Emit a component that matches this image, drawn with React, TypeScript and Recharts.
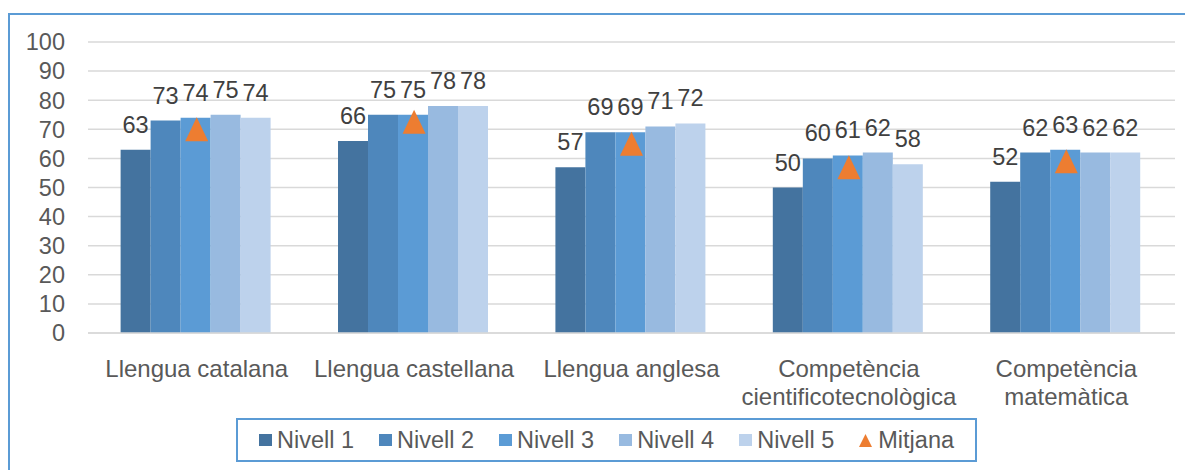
import React from "react";
import {
  ComposedChart,
  Bar,
  Scatter,
  XAxis,
  YAxis,
  CartesianGrid,
  Legend,
  LabelList,
} from "recharts";

const categories = [
  "Llengua catalana",
  "Llengua castellana",
  "Llengua anglesa",
  "Competència cientificotecnològica",
  "Competència matemàtica",
];
const tickLines = [
  ["Llengua catalana"],
  ["Llengua castellana"],
  ["Llengua anglesa"],
  ["Competència", "cientificotecnològica"],
  ["Competència", "matemàtica"],
];
const nivell1 = [63, 66, 57, 50, 52];
const nivell2 = [73, 75, 69, 60, 62];
const nivell3 = [74, 75, 69, 61, 63];
const nivell4 = [75, 78, 71, 62, 62];
const nivell5 = [74, 78, 72, 58, 62];
const mitjana = [70, 72.6, 65, 57, 59];
const yTicks = [0, 10, 20, 30, 40, 50, 60, 70, 80, 90, 100];

const series = [
  { key: "n1", name: "Nivell 1", color: "#44739F" },
  { key: "n2", name: "Nivell 2", color: "#4E87BC" },
  { key: "n3", name: "Nivell 3", color: "#5B9BD5" },
  { key: "n4", name: "Nivell 4", color: "#98BAE0" },
  { key: "n5", name: "Nivell 5", color: "#BDD2EC" },
];

const data = categories.map((c, i) => ({
  cat: c,
  n1: nivell1[i],
  n2: nivell2[i],
  n3: nivell3[i],
  n4: nivell4[i],
  n5: nivell5[i],
  mitjana: mitjana[i],
}));

const FONT = "'Liberation Sans', Arial, sans-serif";
const ORANGE = "#ED7D31";

function Triangle(props: any) {
  const { cx, cy } = props;
  if (cx == null || cy == null) return null;
  const w = 23;
  const h = 24;
  const pts = `${cx},${cy - h / 2} ${cx + w / 2},${cy + h / 2} ${cx - w / 2},${cy + h / 2}`;
  return <polygon points={pts} fill={ORANGE} />;
}

function CatTick(props: any) {
  const { x, y, index } = props;
  const lines = tickLines[index] || [];
  return (
    <text x={x} y={y} textAnchor="middle" fill="#595959" fontSize={24} fontFamily={FONT}>
      {lines.map((l, i) => (
        <tspan key={i} x={x} y={y + 36 + i * 28}>
          {l}
        </tspan>
      ))}
    </text>
  );
}

function LegendBox() {
  return (
    <div
      style={{
        boxSizing: "border-box",
        width: 741,
        height: 44,
        border: "2px solid #5B9BD5",
        display: "flex",
        alignItems: "center",
        justifyContent: "center",
        gap: 25,
        fontFamily: FONT,
        fontSize: 23.5,
        color: "#595959",
      }}
    >
      {series.map((s) => (
        <div key={s.key} style={{ display: "flex", alignItems: "center" }}>
          <span style={{ width: 13, height: 12, background: s.color, marginRight: 5 }} />
          {s.name}
        </div>
      ))}
      <div style={{ display: "flex", alignItems: "center" }}>
        <svg width={13} height={13} style={{ marginRight: 6 }}>
          <polygon points="6.5,0 13,13 0,13" fill={ORANGE} />
        </svg>
        Mitjana
      </div>
    </div>
  );
}

export default function App() {
  return (
    <div style={{ position: "relative", width: 1185, height: 462, overflow: "hidden" }}>
      <div
        style={{
          position: "absolute",
          left: 0,
          top: 5,
          width: 1300,
          height: 600,
          border: "2px solid #5B9BD5",
        }}
      />
      <div style={{ position: "absolute", left: 0, top: 0 }}>
        <ComposedChart
          width={1185}
          height={462}
          data={data}
          margin={{ top: 34, right: 18, left: 0, bottom: 33 }}
          barCategoryGap="15%"
          barGap={0}
        >
          <CartesianGrid vertical={false} stroke="#D9D9D9" strokeWidth={1.5} />
          <XAxis
            dataKey="cat"
            height={60}
            axisLine={{ stroke: "#D9D9D9", strokeWidth: 1.5 }}
            tickLine={false}
            tick={<CatTick />}
            interval={0}
          />
          <YAxis
            width={80}
            domain={[0, 100]}
            ticks={yTicks}
            interval={0}
            axisLine={false}
            tickLine={false}
            tickSize={0}
            tickMargin={23}
            tick={{ fill: "#595959", fontSize: 23.5, fontFamily: FONT }}
          />
          {series.map((s) => (
            <Bar key={s.key} dataKey={s.key} name={s.name} fill={s.color} isAnimationActive={false}>
              <LabelList
                dataKey={s.key}
                position="top"
                offset={17}
                fill="#404040"
                fontSize={23.5}
                fontFamily={FONT}
              />
            </Bar>
          ))}
          <Scatter dataKey="mitjana" name="Mitjana" fill={ORANGE} shape={<Triangle />} isAnimationActive={false} />
          <Legend
            content={<LegendBox />}
            wrapperStyle={{ left: 228, top: 410, bottom: "auto", width: 741, height: 44 }}
          />
        </ComposedChart>
      </div>
    </div>
  );
}
